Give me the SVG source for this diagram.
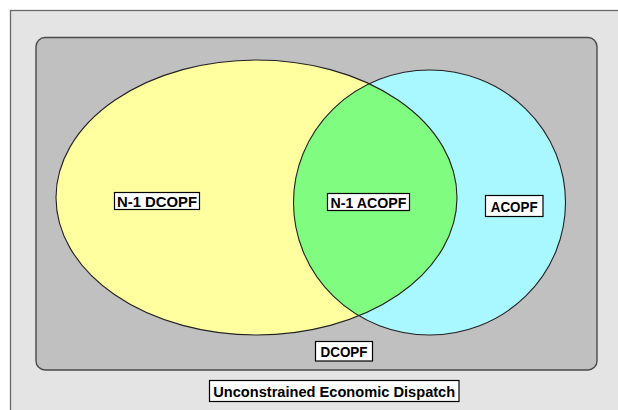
<svg xmlns="http://www.w3.org/2000/svg" width="618" height="410" viewBox="0 0 618 410">
<style>
.lbl{fill:#ffffff;stroke:#000000;stroke-width:1.2}
.txt{font-family:"Liberation Sans",Arial,sans-serif;font-weight:bold;font-size:15.5px;fill:#000000;text-anchor:middle}
.edge{fill:none;stroke:#222222;stroke-width:1.1}
</style>
<defs>
<clipPath id="cyanClip"><ellipse cx="429.5" cy="202.5" rx="136" ry="132.5"/></clipPath>
</defs>
<rect x="0" y="0" width="618" height="410" fill="#ffffff"/>
<g id="frame">
<rect x="10.5" y="10.5" width="640" height="440" fill="#e4e4e4" stroke="#6a6a6a" stroke-width="1.3"/>
</g>
<g id="dcopf-region">
<rect x="36" y="37.5" width="561" height="332.5" rx="9" ry="9" fill="#c0c0c0" stroke="#4a4a4a" stroke-width="1.4"/>
</g>
<g id="n1-dcopf">
<ellipse cx="256.5" cy="197.5" rx="200.5" ry="137.5" fill="#ffffa0"/>
</g>
<g id="acopf">
<ellipse cx="429.5" cy="202.5" rx="136" ry="132.5" fill="#aaf8ff"/>
</g>
<g id="n1-acopf">
<ellipse cx="256.5" cy="197.5" rx="200.5" ry="137.5" fill="#80fc80" clip-path="url(#cyanClip)"/>
</g>
<g id="outlines">
<ellipse class="edge" cx="256.5" cy="197.5" rx="200.5" ry="137.5"/>
<ellipse class="edge" cx="429.5" cy="202.5" rx="136" ry="132.5"/>
</g>
<g id="label-n1-dcopf">
<rect class="lbl" x="114.5" y="192.5" width="85" height="17"/>
<text class="txt" x="157" y="207" textLength="80" lengthAdjust="spacingAndGlyphs">N-1 DCOPF</text>
</g>
<g id="label-n1-acopf">
<rect class="lbl" x="327.5" y="193.5" width="82" height="17"/>
<text class="txt" x="368.5" y="208" textLength="76" lengthAdjust="spacingAndGlyphs">N-1 ACOPF</text>
</g>
<g id="label-acopf">
<rect class="lbl" x="485.5" y="195.5" width="57.5" height="21"/>
<text class="txt" x="514.2" y="211.8" textLength="47" lengthAdjust="spacingAndGlyphs">ACOPF</text>
</g>
<g id="label-dcopf">
<rect class="lbl" x="315.5" y="341.5" width="57" height="19.5"/>
<text class="txt" x="344" y="357" textLength="47" lengthAdjust="spacingAndGlyphs">DCOPF</text>
</g>
<g id="label-ued">
<rect class="lbl" x="209.5" y="380.5" width="249.5" height="21"/>
<text class="txt" x="334.2" y="396.6" textLength="242" lengthAdjust="spacingAndGlyphs">Unconstrained Economic Dispatch</text>
</g>
</svg>
